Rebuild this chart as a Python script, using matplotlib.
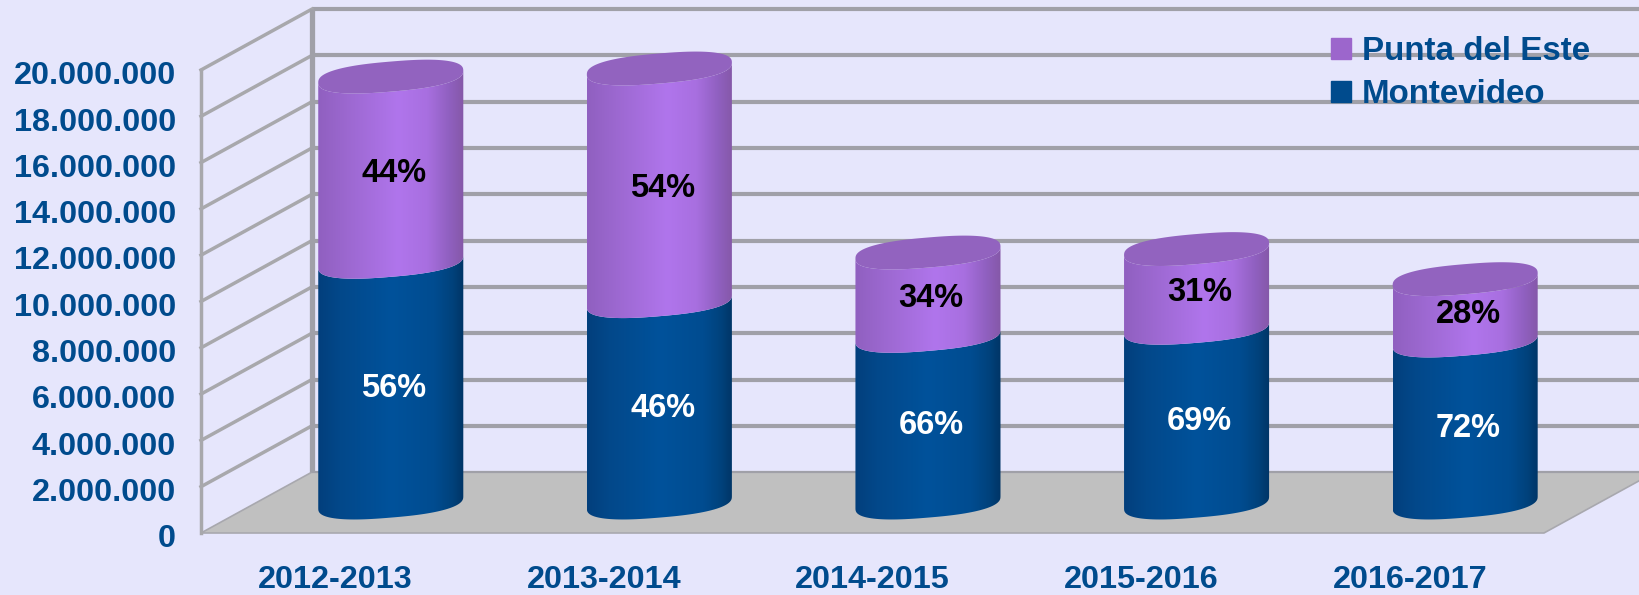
import numpy as np
import matplotlib
matplotlib.use('Agg')
import matplotlib.pyplot as plt
import matplotlib.transforms as mtrans
from matplotlib.colors import LinearSegmentedColormap
from matplotlib.patches import Patch, Polygon, PathPatch
from matplotlib.path import Path

plt.rcParams['font.family'] = ['Liberation Sans', 'DejaVu Sans']
plt.rcParams['font.weight'] = 'bold'

years = ["2012-2013", "2013-2014", "2014-2015", "2015-2016", "2016-2017"]
montevideo = [10.4e6, 8.7e6, 7.2e6, 7.55e6, 7.0e6]
punta = [8.0e6, 10.05e6, 3.6e6, 3.4e6, 2.65e6]
montevideo_pct = ["56%", "46%", "66%", "69%", "72%"]
punta_pct = ["44%", "54%", "34%", "31%", "28%"]
y_ticks = [0, 2e6, 4e6, 6e6, 8e6, 10e6, 12e6, 14e6, 16e6, 18e6, 20e6]

BG = '#e6e6fc'
TEXT = '#004b8d'
GRID = '#a0a0a8'
SIDE = '#a8a8ac'
FLOOR = '#c0c0c0'

# fake 3d box, depth given in data units
DEPTH_X = 0.413
DEPTH_Y = 2.63e6
BAR_A = 0.27
BAR_B = 0.65e6
BAR_TILT = 0.26e6
BLUNT = 0.8

blue_cmap = LinearSegmentedColormap.from_list('blue', [
    (0, '#023f7c'), (0.15, '#03488a'), (0.5, '#00529b'),
    (0.8, '#004c90'), (0.92, '#00427c'), (1, '#003566')])
purple_cmap = LinearSegmentedColormap.from_list('purple', [
    (0, '#9060c0'), (0.2, '#9c68d0'), (0.55, '#b075ec'),
    (0.75, '#a86fe0'), (0.9, '#9060c0'), (1, '#8558a8')])


def arc(xc, yc, t):
    c = np.sign(np.cos(t)) * np.abs(np.cos(t)) ** BLUNT
    s = np.sign(np.sin(t)) * np.abs(np.sin(t)) ** BLUNT
    x = xc + BAR_A * c
    y = yc + BAR_TILT * c + BAR_B * s
    return np.column_stack([x, y])


def draw_segment(ax, xc, y0, y1, cmap):
    t = np.linspace(np.pi, 2 * np.pi, 60)
    low = arc(xc, y0, t)
    high = arc(xc, y1, t)[::-1]
    pts = np.vstack([low, high, low[:1]])
    clip = PathPatch(Path(pts), transform=ax.transData, fc='none', ec='none', clip_on=False)
    ax.add_patch(clip)
    grad = np.linspace(0, 1, 256).reshape(1, -1)
    im = ax.imshow(grad, cmap=cmap, aspect='auto', interpolation='bilinear',
                   extent=[xc - BAR_A, xc + BAR_A, y0 - 2 * BAR_B, y1 + 2 * BAR_B],
                   zorder=3)
    # bars can rise above the axes box, so clip to the figure and the cylinder only
    im.set_clip_box(ax.figure.bbox)
    im.set_clip_path(clip)


def main():
    fig = plt.figure(figsize=(16.4, 5.95), dpi=100, facecolor=BG)
    ax = fig.add_axes([201 / 1640, 62 / 595, 1439 / 1640, 463 / 595])
    ax.patch.set_visible(False)
    for s in ax.spines.values():
        s.set_visible(False)

    x_left = -0.5 - DEPTH_X / 2
    x_right = 4.5 - DEPTH_X / 2
    back_right = x_right + DEPTH_X
    back_left = x_left + DEPTH_X

    # floor
    ax.add_patch(Polygon([(x_left, 0), (back_left, DEPTH_Y), (back_right, DEPTH_Y), (x_right, 0)],
                         closed=True, fc=FLOOR, ec='#a8a8ae', lw=1.2, zorder=1, clip_on=False))

    # walls
    for v in y_ticks:
        lw_back = 1.6 if v == 0 else 3.0
        ax.plot([back_left, back_right], [v + DEPTH_Y, v + DEPTH_Y], color=GRID, lw=lw_back,
                zorder=1.5, clip_on=False, solid_capstyle='butt')
        if v > 0:
            ax.plot([x_left, back_left], [v, v + DEPTH_Y], color=SIDE, lw=2.5,
                    zorder=2, clip_on=False)
    ax.plot([back_left, back_left], [DEPTH_Y, 20e6 + DEPTH_Y], color=GRID, lw=3.8,
            zorder=2, clip_on=False, solid_capstyle='butt')
    ax.plot([x_left, x_left], [0, 20e6], color=SIDE, lw=2.5, zorder=2, clip_on=False)

    # cylinders
    for i in range(len(years)):
        base = DEPTH_Y / 2
        mid = base + montevideo[i]
        top = mid + punta[i]
        draw_segment(ax, i, base, mid, blue_cmap)
        draw_segment(ax, i, mid, top, purple_cmap)
        t = np.linspace(0, 2 * np.pi, 120)
        ax.add_patch(Polygon(arc(i, top, t), closed=True, fc='#9263bf', ec='none',
                             zorder=4, clip_on=False))
        ax.text(i + 0.012, (base + mid) / 2 - 0.28e6, montevideo_pct[i], color='white', fontsize=23.5,
                ha='center', va='center', zorder=6)
        ax.text(i + 0.012, (mid + top) / 2 - 0.18e6, punta_pct[i], color='black', fontsize=23.5,
                ha='center', va='center', zorder=6)

    ax.set_xlim(x_left, x_left + 1439 / 268.6)
    ax.set_ylim(0, 20e6)

    ax.set_yticks(y_ticks)
    ax.set_yticklabels([f"{int(v):,}".replace(",", ".") for v in y_ticks])
    ax.set_xticks([i - DEPTH_X / 2 for i in range(len(years))])
    ax.set_xticklabels(years)
    ax.tick_params(axis='both', length=0, labelcolor=TEXT, labelsize=23.3)
    ax.tick_params(axis='y', pad=18)
    ax.tick_params(axis='x', pad=23)
    shift = mtrans.ScaledTranslation(0, -2 / 72, fig.dpi_scale_trans)
    for lab in ax.get_yticklabels():
        lab.set_transform(lab.get_transform() + shift)

    handles = [Patch(color='#9c66cc', label='Punta del Este'),
               Patch(color='#004b8d', label='Montevideo')]
    leg = ax.legend(handles=handles, loc='upper left', bbox_to_anchor=(1331 / 1640, 1 - 36 / 595),
                    bbox_transform=fig.transFigure, frameon=False, fontsize=23.9,
                    handlelength=0.61, handleheight=0.61, handletextpad=0.31,
                    labelspacing=0.36, borderaxespad=0, borderpad=0, labelcolor=TEXT)
    leg.set_zorder(7)

    plt.savefig("out.png", dpi=100, facecolor=BG)
    plt.close()


if __name__ == "__main__":
    main()
